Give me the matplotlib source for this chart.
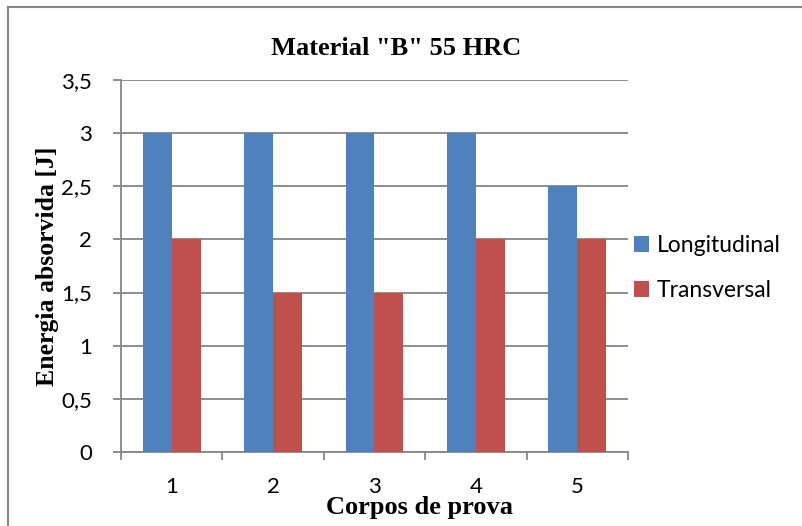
import matplotlib.pyplot as plt
from matplotlib.lines import Line2D
import numpy as np

corpos = ['1', '2', '3', '4', '5']
longitudinal = [3, 3, 3, 3, 2.5]
transversal = [2, 1.5, 1.5, 2, 2]
yticks = [0, 0.5, 1, 1.5, 2, 2.5, 3, 3.5]
ytick_labels = ['0', '0,5', '1', '1,5', '2', '2,5', '3', '3,5']

blue = '#4F81BD'
red = '#C0504D'
grid_c = '#868686'
tick_font = 'Lato'
serif = 'Liberation Serif'

fig = plt.figure(figsize=(8.03, 5.26), dpi=100)
ax = fig.add_axes([121 / 803, 1 - 452 / 526, 507 / 803, 372 / 526])

x = np.arange(len(corpos))
w = 1 / 3.5
ax.bar(x - w / 2, longitudinal, w, color=blue, label='Longitudinal', zorder=3)
ax.bar(x + w / 2, transversal, w, color=red, label='Transversal', zorder=3)

ax.set_xlim(-0.5, len(corpos) - 0.5)
ax.set_ylim(0, 3.5)
ax.set_yticks(yticks)
ax.set_yticklabels(ytick_labels, fontfamily=tick_font, fontsize=16)
ax.yaxis.grid(True, color=grid_c, linewidth=1.3, zorder=0)
ax.set_axisbelow(True)

# category ticks sit on the boundaries, labels in the middle
ax.set_xticks(np.arange(-0.5, len(corpos)), minor=False)
ax.set_xticklabels([''] * (len(corpos) + 1))
ax.set_xticks(x, minor=True)
ax.set_xticklabels(corpos, minor=True, fontfamily=tick_font, fontsize=16)
ax.tick_params(axis='x', which='major', direction='out', length=6, color=grid_c, width=1.3)
ax.tick_params(axis='x', which='minor', length=0, pad=18)
ax.tick_params(axis='y', direction='out', length=6, color=grid_c, width=1.3, pad=15)

for side in ['top', 'right']:
    ax.spines[side].set_visible(False)
for side in ['left', 'bottom']:
    ax.spines[side].set_color(grid_c)
    ax.spines[side].set_linewidth(1.3)

ax.set_title('Material "B" 55 HRC', fontfamily=serif, fontweight='bold',
             fontsize=19, pad=18, x=(396 - 121) / 507)
ax.set_ylabel('Energia absorvida [J]', fontfamily=serif, fontweight='bold', fontsize=18.5)
ax.yaxis.set_label_coords(-62 / 507, 0.5)
ax.set_xlabel('Corpos de prova', fontfamily=serif, fontweight='bold', fontsize=19)
ax.xaxis.set_label_coords((420 - 121) / 507, -44 / 372)

ax.legend(loc='center left', bbox_to_anchor=(1.0, 0.495), frameon=False,
          prop={'family': tick_font, 'size': 16.5}, handlelength=0.66, handleheight=0.66,
          handletextpad=0.33, labelspacing=1.05, borderaxespad=0, borderpad=0.25)

# outer chart border (top and left edges only)
fig.add_artist(Line2D([8 / 803, 1], [1 - 7 / 526, 1 - 7 / 526], color=grid_c, linewidth=1.5))
fig.add_artist(Line2D([8 / 803, 8 / 803], [0, 1 - 7 / 526], color=grid_c, linewidth=1.5))

fig.savefig('out.png', dpi=100)
